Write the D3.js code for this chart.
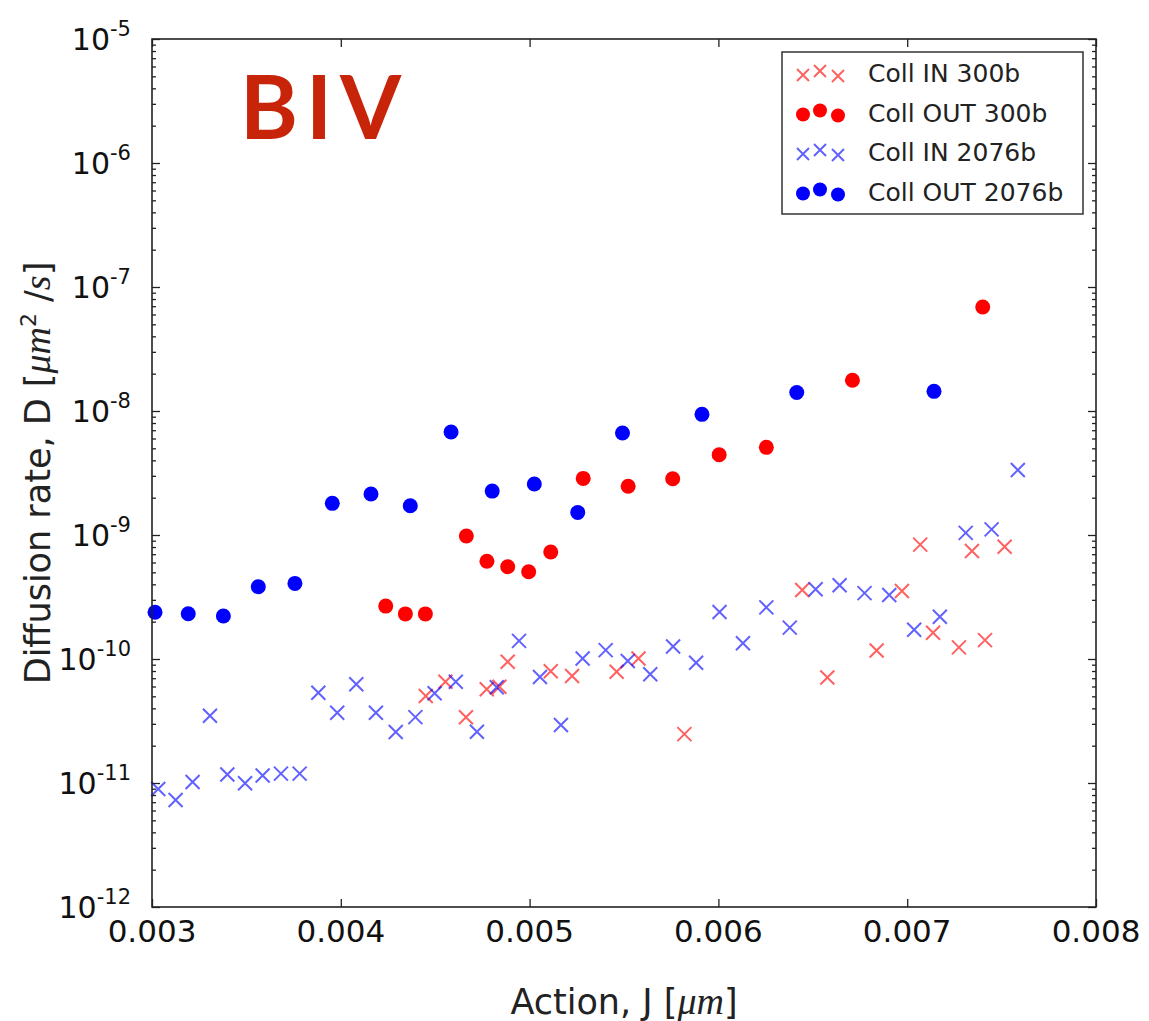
<!DOCTYPE html>
<html>
<head>
<meta charset="utf-8">
<script src="https://cdn.jsdelivr.net/npm/d3@7"></script>
<style>
  html, body { margin: 0; padding: 0; background: #fff; }
  svg { display: block; }
</style>
</head>
<body>
<svg id="chart" width="1149" height="1021"></svg>
<script>
// Action J (µm) and diffusion rate D (µm²/s) per series
const collIn300J = [0.00445, 0.004554, 0.004663, 0.004773, 0.00484, 0.004884, 0.005112, 0.005225, 0.005461, 0.005577, 0.00582, 0.006444, 0.006577, 0.006838, 0.006972, 0.007069, 0.007137, 0.007274, 0.007343, 0.007412, 0.007516];
const collIn300D = [5.03e-11, 6.56e-11, 3.39e-11, 5.70e-11, 5.98e-11, 9.5e-11, 7.96e-11, 7.3e-11, 7.9e-11, 1.01e-10, 2.48e-11, 3.6e-10, 7.1e-11, 1.17e-10, 3.53e-10, 8.36e-10, 1.63e-10, 1.24e-10, 7.43e-10, 1.42e-10, 8.05e-10];

const collOut300J = [0.004238, 0.004342, 0.004448, 0.004665, 0.004774, 0.004884, 0.004995, 0.005112, 0.005284, 0.005522, 0.005758, 0.006004, 0.006254, 0.00671, 0.0074];
const collOut300D = [2.67e-10, 2.31e-10, 2.31e-10, 9.82e-10, 6.14e-10, 5.55e-10, 5.06e-10, 7.30e-10, 2.86e-9, 2.47e-9, 2.84e-9, 4.44e-9, 5.09e-9, 1.77e-8, 6.9e-8];

const collIn2076J = [0.003033, 0.003125, 0.003215, 0.003307, 0.003399, 0.003493, 0.003586, 0.003683, 0.003782, 0.003881, 0.003981, 0.004082, 0.004186, 0.004291, 0.004395, 0.004497, 0.004609, 0.004721, 0.004826, 0.004944, 0.005055, 0.005166, 0.005281, 0.005403, 0.00552, 0.005639, 0.00576, 0.005882, 0.006006, 0.00613, 0.006254, 0.006378, 0.006515, 0.006642, 0.006774, 0.006905, 0.007037, 0.007173, 0.00731, 0.007447, 0.007586];
const collIn2076D = [8.95e-12, 7.3e-12, 1.02e-11, 3.49e-11, 1.17e-11, 9.95e-12, 1.15e-11, 1.19e-11, 1.19e-11, 5.35e-11, 3.69e-11, 6.25e-11, 3.69e-11, 2.58e-11, 3.4e-11, 5.29e-11, 6.56e-11, 2.59e-11, 5.91e-11, 1.4e-10, 7.16e-11, 2.94e-11, 1.01e-10, 1.18e-10, 9.64e-11, 7.54e-11, 1.26e-10, 9.33e-11, 2.39e-10, 1.34e-10, 2.61e-10, 1.79e-10, 3.65e-10, 3.93e-10, 3.4e-10, 3.28e-10, 1.72e-10, 2.19e-10, 1.04e-9, 1.11e-9, 3.34e-9];

const collOut2076J = [0.003016, 0.003192, 0.003378, 0.003563, 0.003757, 0.003955, 0.00416, 0.004368, 0.004584, 0.004802, 0.005025, 0.005255, 0.005492, 0.005913, 0.006415, 0.007142];
const collOut2076D = [2.38e-10, 2.32e-10, 2.22e-10, 3.83e-10, 4.07e-10, 1.80e-9, 2.14e-9, 1.72e-9, 6.77e-9, 2.26e-9, 2.58e-9, 1.52e-9, 6.65e-9, 9.4e-9, 1.41e-8, 1.44e-8];

const seriesNames = ["Coll IN 300b", "Coll OUT 300b", "Coll IN 2076b", "Coll OUT 2076b"];
const seriesColors = ["#ff0000", "#ff0000", "#0000ff", "#0000ff"];
const seriesMarkers = ["cross", "circle", "cross", "circle"];

const xTickValues = [0.003, 0.004, 0.005, 0.006, 0.007, 0.008];
const xTickLabels = ["0.003", "0.004", "0.005", "0.006", "0.007", "0.008"];
const yExponents = [-5, -6, -7, -8, -9, -10, -11, -12];

const titleText = "BIV";
const xTitle = "Action, J [";
const yTitle = "Diffusion rate, D [";

const series = [
  { J: collIn300J, D: collIn300D },
  { J: collOut300J, D: collOut300D },
  { J: collIn2076J, D: collIn2076D },
  { J: collOut2076J, D: collOut2076D }
].map((s, i) => ({
  name: seriesNames[i], color: seriesColors[i], marker: seriesMarkers[i],
  points: s.J.map((j, k) => ({ j, d: s.D[k] }))
}));

const svg = d3.select("#chart");
const L = 152, R = 1096, T = 39, B = 907;

const x = d3.scaleLinear().domain([0.003, 0.008]).range([L, R]);
const y = d3.scaleLog().domain([1e-12, 1e-5]).range([B, T]);

const frameColor = "#222";

// minor ticks on the log axis
const minorY = [];
for (let e = -12; e < -5; e++) for (let m = 2; m <= 9; m++) minorY.push(m * Math.pow(10, e));
const majorY = yExponents.map(e => Math.pow(10, e));

// axes with inward ticks on all four sides
const axisStyle = g => {
  g.select(".domain").remove();
  g.selectAll(".tick line").attr("stroke", frameColor).attr("stroke-width", 1.3);
  g.selectAll(".tick text").remove();
};
svg.append("g").attr("transform", `translate(0,${B})`)
  .call(d3.axisBottom(x).tickValues(xTickValues).tickSize(-8)).call(axisStyle);
svg.append("g").attr("transform", `translate(0,${T})`)
  .call(d3.axisTop(x).tickValues(xTickValues).tickSize(-8)).call(axisStyle);
svg.append("g").attr("transform", `translate(${L},0)`)
  .call(d3.axisLeft(y).tickValues(majorY).tickSize(-8)).call(axisStyle);
svg.append("g").attr("transform", `translate(${R},0)`)
  .call(d3.axisRight(y).tickValues(majorY).tickSize(-8)).call(axisStyle);
svg.append("g").attr("transform", `translate(${L},0)`)
  .call(d3.axisLeft(y).tickValues(minorY).tickSize(-4)).call(axisStyle);
svg.append("g").attr("transform", `translate(${R},0)`)
  .call(d3.axisRight(y).tickValues(minorY).tickSize(-4)).call(axisStyle);

// x tick labels
svg.append("g").selectAll("text").data(xTickValues).join("text")
  .attr("x", d => x(d)).attr("y", B + 35)
  .attr("text-anchor", "middle")
  .attr("font-family", "DejaVu Sans").attr("font-size", 31).attr("fill", "#111")
  .text((d, i) => xTickLabels[i]);

// y tick labels: 10 with superscript exponent
const yl = svg.append("g").selectAll("text").data(yExponents).join("text")
  .attr("x", 131).attr("y", e => y(Math.pow(10, e)) + 11)
  .attr("text-anchor", "end")
  .attr("font-family", "DejaVu Sans").attr("fill", "#111");
yl.append("tspan").attr("font-size", 30).text("10");
yl.append("tspan").attr("font-size", 21).attr("dy", -14).text(e => "-" + Math.abs(e));

// data markers
const plot = svg.append("g");
series.forEach(s => {
  const g = plot.append("g");
  if (s.marker === "circle") {
    g.selectAll("circle").data(s.points).join("circle")
      .attr("cx", p => x(p.j)).attr("cy", p => y(p.d)).attr("r", 7.5)
      .attr("fill", s.color);
  } else {
    const h = 7;
    g.selectAll("path").data(s.points).join("path")
      .attr("d", p => {
        const cx = x(p.j), cy = y(p.d);
        return `M${cx - h},${cy - h}L${cx + h},${cy + h}M${cx - h},${cy + h}L${cx + h},${cy - h}`;
      })
      .attr("stroke", s.color).attr("stroke-width", 2).attr("stroke-opacity", 0.62)
      .attr("fill", "none");
  }
});

// frame
svg.append("rect").attr("x", L).attr("y", T).attr("width", R - L).attr("height", B - T)
  .attr("fill", "none").attr("stroke", frameColor).attr("stroke-width", 1.6);

// legend
const lg = svg.append("g");
lg.append("rect").attr("x", 782).attr("y", 52).attr("width", 301).attr("height", 162)
  .attr("fill", "#fff").attr("stroke", "#333").attr("stroke-width", 1.5);
const markerDx = [803, 820, 838];
const markerDy = [2, -2, 3];
series.forEach((s, i) => {
  const cy = 73 + i * 39.5;
  markerDx.forEach((mx, k) => {
    const my = cy + markerDy[k];
    if (s.marker === "circle") {
      lg.append("circle").attr("cx", mx).attr("cy", my).attr("r", 7).attr("fill", s.color);
    } else {
      const h = 6;
      lg.append("path")
        .attr("d", `M${mx - h},${my - h}L${mx + h},${my + h}M${mx - h},${my + h}L${mx + h},${my - h}`)
        .attr("stroke", s.color).attr("stroke-width", 2).attr("stroke-opacity", 0.62);
    }
  });
  lg.append("text").attr("x", 868).attr("y", cy + 9)
    .attr("font-family", "DejaVu Sans").attr("font-size", 25).attr("fill", "#222")
    .text(s.name);
});

// axis titles
const xt = svg.append("text").attr("x", (L + R) / 2).attr("y", 1014)
  .attr("text-anchor", "middle").attr("font-family", "DejaVu Sans")
  .attr("font-size", 35).attr("fill", "#222");
xt.append("tspan").text(xTitle);
xt.append("tspan").attr("font-family", "Liberation Serif").attr("font-style", "italic")
  .attr("font-size", 38).text("μm");
xt.append("tspan").text("]");

const yt = svg.append("text")
  .attr("transform", `translate(50,${(T + B) / 2}) rotate(-90)`)
  .attr("text-anchor", "middle").attr("font-family", "DejaVu Sans")
  .attr("font-size", 35).attr("fill", "#222");
yt.append("tspan").text(yTitle);
yt.append("tspan").attr("font-family", "Liberation Serif").attr("font-style", "italic")
  .attr("font-size", 38).text("μm");
yt.append("tspan").attr("font-size", 22).attr("dy", -14).text("2");
yt.append("tspan").attr("dy", 14).text(" /");
yt.append("tspan").attr("font-family", "Liberation Serif").attr("font-style", "italic")
  .attr("font-size", 38).text("s");
yt.append("tspan").text("]");

// panel title
svg.append("text").attr("x", 240).attr("y", 139)
  .attr("font-family", "Lato").attr("font-weight", 700)
  .attr("font-size", 88).attr("letter-spacing", 8).attr("fill", "#c8240a")
  .text(titleText);
</script>
</body>
</html>
